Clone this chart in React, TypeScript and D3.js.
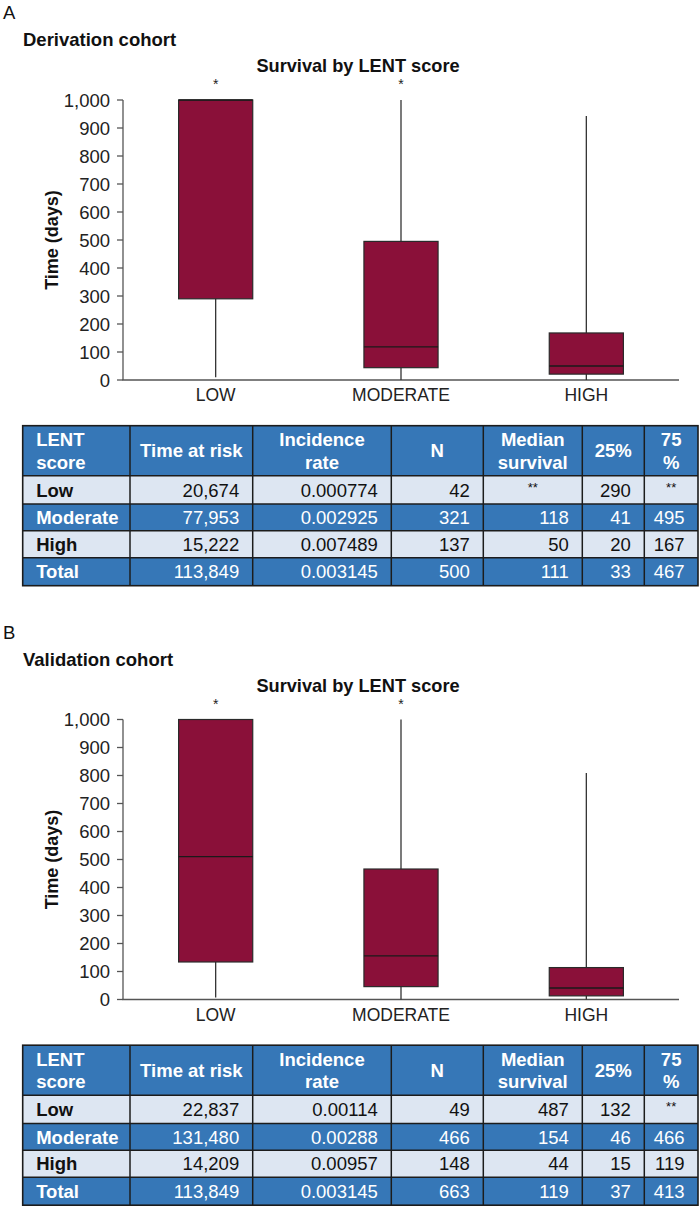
import React from "react";
import * as d3 from "d3";

// ---------- data ----------
const categories = ["LOW", "MODERATE", "HIGH"];
const yTicks = [0, 100, 200, 300, 400, 500, 600, 700, 800, 900, 1000];

// Derivation cohort (panel A) box-plot statistics
const derivWhiskerLow = [10, 0, 0];
const derivQ1 = [290, 44, 21];
const derivMedian = [1000, 118, 50];
const derivQ3 = [1000, 495, 168];
const derivWhiskerHigh = [1000, 1000, 943];
const derivStar = [true, true, false];

// Validation cohort (panel B)
const validWhiskerLow = [7, 0, 0];
const validQ1 = [134, 46, 13];
const validMedian = [510, 156, 41];
const validQ3 = [1000, 466, 114];
const validWhiskerHigh = [1000, 1000, 809];
const validStar = [true, true, false];

// Tables
const headerLines = [["LENT", "score"], ["Time at risk"], ["Incidence", "rate"], ["N"], ["Median", "survival"], ["25%"], ["75", "%"]];
const rowLabels = ["Low", "Moderate", "High", "Total"];

const derivTimeAtRisk = ["20,674", "77,953", "15,222", "113,849"];
const derivIncidence = ["0.000774", "0.002925", "0.007489", "0.003145"];
const derivN = ["42", "321", "137", "500"];
const derivMedianSurv = ["**", "118", "50", "111"];
const derivP25 = ["290", "41", "20", "33"];
const derivP75 = ["**", "495", "167", "467"];

const validTimeAtRisk = ["22,837", "131,480", "14,209", "113,849"];
const validIncidence = ["0.00114", "0.00288", "0.00957", "0.003145"];
const validN = ["49", "466", "148", "663"];
const validMedianSurv = ["487", "154", "44", "119"];
const validP25 = ["132", "46", "15", "37"];
const validP75 = ["**", "466", "119", "413"];

// ---------- styles ----------
const FONT = "'Liberation Sans', Arial, Helvetica, sans-serif";
const BOX = "#8a1039";
const BLUE = "#3677b7";
const LIGHT = "#dde6f2";
const BORDER = "#1c1c1c";
const TFS = 18.5;

const colEdges = [22.7, 130, 252.7, 391.3, 483.3, 582.3, 644.3, 698];
const rowHeights = [50, 28.3, 26.7, 27, 28];

type PanelProps = {
  y0: number;
  letter: string;
  cohort: string;
  wLow: number[];
  q1: number[];
  med: number[];
  q3: number[];
  wHigh: number[];
  star: boolean[];
  cols: string[][];
};

function Panel({ y0, letter, cohort, wLow, q1, med, q3, wHigh, star, cols }: PanelProps) {
  const x = d3.scaleBand<string>().domain(categories).range([123, 679]).paddingInner(0).paddingOuter(0);
  const y = d3.scaleLinear().domain([0, 1000]).range([y0 + 380, y0 + 100]);
  const bw = x.bandwidth() * 0.4;
  const fmt = d3.format(",");

  const tableTop = y0 + 425.7;
  const rowTops: number[] = [];
  let acc = tableTop;
  rowHeights.forEach((h) => {
    rowTops.push(acc);
    acc += h;
  });
  const tableBottom = acc;

  return (
    <g>
      <text x={3} y={y0 + 19} fontSize={18.5} fontFamily={FONT} fill="#111">{letter}</text>
      <text x={23} y={y0 + 46} fontSize={18.5} fontWeight="bold" fontFamily={FONT} fill="#111">{cohort}</text>
      <text x={358} y={y0 + 72} fontSize={18.2} fontWeight="bold" fontFamily={FONT} fill="#111" textAnchor="middle">
        Survival by LENT score
      </text>
      <text
        transform={`translate(58, ${y0 + 240}) rotate(-90)`}
        fontSize={18}
        fontWeight="bold"
        fontFamily={FONT}
        fill="#111"
        textAnchor="middle"
      >
        Time (days)
      </text>

      {/* y axis */}
      <line x1={123} x2={123} y1={y(1000)} y2={y(0)} stroke="#555" strokeWidth={1.3} />
      {yTicks.map((t) => (
        <g key={t}>
          <line x1={117} x2={123} y1={y(t)} y2={y(t)} stroke="#555" strokeWidth={1.3} />
          <text x={110} y={y(t)} dy="0.36em" fontSize={18.5} fontFamily={FONT} fill="#222" textAnchor="end">
            {fmt(t)}
          </text>
        </g>
      ))}
      {/* x axis */}
      <line x1={122.4} x2={679} y1={y(0)} y2={y(0)} stroke="#555" strokeWidth={1.3} />
      {categories.map((c) => (
        <text key={c} x={(x(c) as number) + x.bandwidth() / 2} y={y0 + 401} fontSize={17.5} fontFamily={FONT} fill="#222" textAnchor="middle">
          {c}
        </text>
      ))}

      {/* boxes */}
      {categories.map((c, i) => {
        const cx = (x(c) as number) + x.bandwidth() / 2;
        return (
          <g key={c}>
            <line x1={cx} x2={cx} y1={y(wHigh[i])} y2={y(q3[i])} stroke="#333" strokeWidth={1.3} />
            <line x1={cx} x2={cx} y1={y(q1[i])} y2={y(wLow[i])} stroke="#333" strokeWidth={1.3} />
            <rect x={cx - bw / 2} width={bw} y={y(q3[i])} height={y(q1[i]) - y(q3[i])} fill={BOX} stroke="#2a2a2a" strokeWidth={1.2} />
            <line x1={cx - bw / 2} x2={cx + bw / 2} y1={y(med[i])} y2={y(med[i])} stroke="#1a1a1a" strokeWidth={1.3} />
            {star[i] && (
              <text x={cx} y={y(1000) - 11} fontSize={14} fontFamily={FONT} fill="#222" textAnchor="middle">*</text>
            )}
          </g>
        );
      })}

      {/* table */}
      {rowHeights.map((h, r) => {
        const fill = r === 0 || r % 2 === 0 ? BLUE : LIGHT;
        return <rect key={r} x={colEdges[0]} y={rowTops[r]} width={colEdges[colEdges.length - 1] - colEdges[0]} height={h} fill={fill} />;
      })}
      {/* header */}
      {headerLines.map((lines, ci) => {
        const left = colEdges[ci];
        const right = colEdges[ci + 1];
        const cyMid = rowTops[0] + rowHeights[0] / 2;
        const anchorStart = ci === 0;
        return lines.map((ln, li) => (
          <text
            key={`${ci}-${li}`}
            x={anchorStart ? left + 13.5 : (left + right) / 2}
            y={cyMid + (li - (lines.length - 1) / 2) * 22.5}
            dy="0.36em"
            fontSize={TFS}
            fontWeight="bold"
            fontFamily={FONT}
            fill="#fff"
            textAnchor={anchorStart ? "start" : "middle"}
          >
            {ln}
          </text>
        ));
      })}
      {/* body */}
      {rowLabels.map((lab, ri) => {
        const r = ri + 1;
        const top = rowTops[r];
        const cy = top + rowHeights[r] / 2;
        const dark = r % 2 === 0;
        const color = dark ? "#fff" : "#111";
        return (
          <g key={lab}>
            <text x={colEdges[0] + 13.5} y={cy} dy="0.36em" fontSize={TFS} fontWeight="bold" fontFamily={FONT} fill={color}>
              {lab}
            </text>
            {cols.map((col, ci) => {
              const v = col[ri];
              const left = colEdges[ci + 1];
              const right = colEdges[ci + 2];
              if (v === "**") {
                return (
                  <text key={ci} x={(left + right) / 2} y={cy - 3} dy="0.36em" fontSize={13} fontFamily={FONT} fill={color} textAnchor="middle">
                    **
                  </text>
                );
              }
              return (
                <text key={ci} x={right - 13.5} y={cy} dy="0.36em" fontSize={TFS} fontFamily={FONT} fill={color} textAnchor="end">
                  {v}
                </text>
              );
            })}
          </g>
        );
      })}
      {/* borders */}
      {rowTops.slice(1).map((t, i) => (
        <line key={`h${i}`} x1={colEdges[0]} x2={colEdges[colEdges.length - 1]} y1={t} y2={t} stroke={BORDER} strokeWidth={1.5} />
      ))}
      {colEdges.slice(1, -1).map((cx, i) => (
        <line key={`v${i}`} x1={cx} x2={cx} y1={tableTop} y2={tableBottom} stroke={BORDER} strokeWidth={1.5} />
      ))}
      <rect
        x={colEdges[0]}
        y={tableTop}
        width={colEdges[colEdges.length - 1] - colEdges[0]}
        height={tableBottom - tableTop}
        fill="none"
        stroke={BORDER}
        strokeWidth={1.6}
      />
    </g>
  );
}

export default function App() {
  return (
    <svg
      width={699}
      height={1206}
      viewBox="0 0 699 1206"
      style={{ position: "absolute", left: 0, top: 0, background: "#fff" }}
    >
      <rect x={0} y={0} width={699} height={1206} fill="#fff" />
      <Panel
        y0={0}
        letter="A"
        cohort="Derivation cohort"
        wLow={derivWhiskerLow}
        q1={derivQ1}
        med={derivMedian}
        q3={derivQ3}
        wHigh={derivWhiskerHigh}
        star={derivStar}
        cols={[derivTimeAtRisk, derivIncidence, derivN, derivMedianSurv, derivP25, derivP75]}
      />
      <Panel
        y0={619.5}
        letter="B"
        cohort="Validation cohort"
        wLow={validWhiskerLow}
        q1={validQ1}
        med={validMedian}
        q3={validQ3}
        wHigh={validWhiskerHigh}
        star={validStar}
        cols={[validTimeAtRisk, validIncidence, validN, validMedianSurv, validP25, validP75]}
      />
    </svg>
  );
}
